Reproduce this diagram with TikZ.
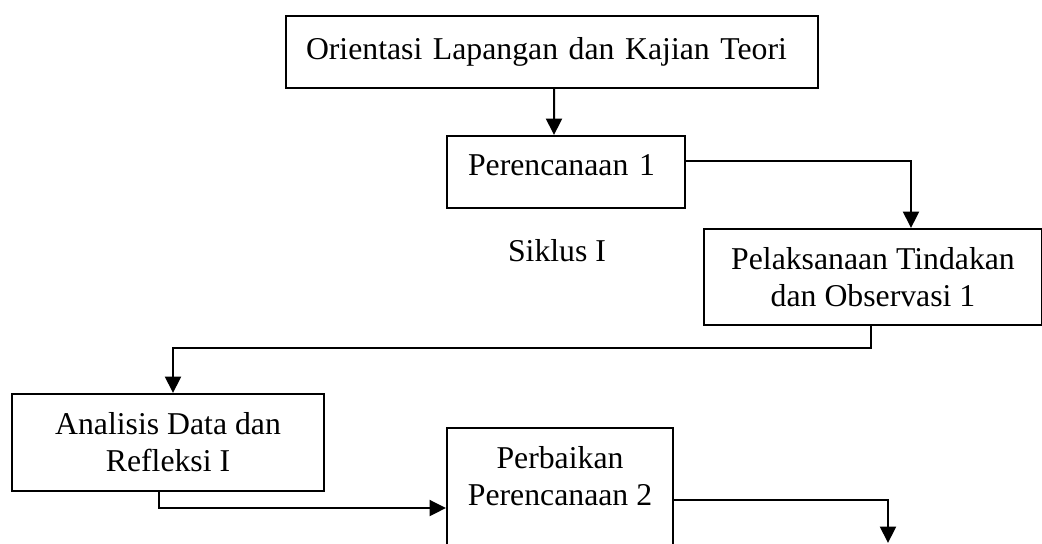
\documentclass[tikz,border=0pt]{standalone}
\usepackage{fontspec}
\setmainfont{Liberation Serif}
\usetikzlibrary{arrows.meta,calc}

\begin{document}
\begin{tikzpicture}[x=0.4pt, y=-0.4pt, font=\fontsize{12.7}{14.8}\selectfont,
  box/.style={draw, line width=0.8pt, anchor=north west},
  arr/.style={line width=0.8pt, -{Triangle[length=6.6pt,width=6.4pt]}}]
\clip (0,0) rectangle (1042,543);
\node[box, text width=196.8pt, inner xsep=8pt, minimum height=28.8pt, align=left] (orient) at (285,15) {Orientasi Lapangan dan Kajian Teori};
\node[box, text width=78.4pt, inner xsep=8.4pt, minimum height=28.8pt, text depth=5.4pt, align=left] (plan1) at (446,135) {Perencanaan 1};
\node[anchor=base] (siklus) at (557,261) {Siklus I};
\node[box, minimum width=135.2pt, minimum height=38.4pt, align=center] (pelak) at (703,228) {Pelaksanaan Tindakan\\dan Observasi 1};
\node[box, minimum width=124.8pt, minimum height=38.8pt, align=center] (anal) at (11,393) {Analisis Data dan\\Refleksi I};
\node[box, minimum width=90.4pt, inner ysep=7.2pt, text depth=60pt, align=center] (perb) at (446,427) {Perbaikan\\Perencanaan 2};
\coordinate (end) at (888,543);

\draw[arr] ($(orient.south)+(2,0)$) -- ($(plan1.north)+(-12,0)$);
\draw[arr] ($(plan1.east)+(0,-11)$) -| ($(pelak.north)+(38,0)$);
\draw[arr] ($(pelak.south)+(-2,0)$) -- ++(0,22) -| ($(anal.north)+(5,0)$);
\draw[arr] ($(anal.south)+(-9,0)$) |- ($(perb.north west)+(0,81)$);
\draw[arr] ($(perb.north east)+(0,73)$) -| (end);
\end{tikzpicture}
\end{document}
